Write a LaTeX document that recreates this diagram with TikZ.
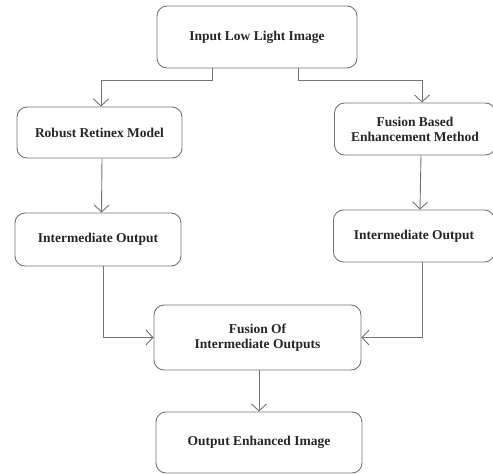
\documentclass[tikz,border=0pt]{standalone}
\usepackage{fontspec}
\setmainfont{Liberation Serif}
\usetikzlibrary{arrows.meta}
\begin{document}
\begin{tikzpicture}[x=1pt,y=-1pt,
  blk/.style={draw=black!55, line width=0.9pt, rounded corners=10pt, align=center,
    font=\fontsize{13.5}{15}\selectfont\bfseries, text=black!85, inner sep=0pt},
  arr/.style={draw=black!55, line width=0.9pt, -{Straight Barb[length=7pt,width=15pt]}}]
\useasboundingbox (0,0) rectangle (493,474);
\node[blk, minimum width=200pt, minimum height=62pt] (inp) at (257,37) {Input Low Light Image};
\node[blk, minimum width=165pt, minimum height=51pt] (rrm) at (99.5,132.5) {Robust Retinex Model};
\node[blk, minimum width=161pt, minimum height=52pt] (fbe) at (415,129) {Fusion Based\\Enhancement Method};
\node[blk, minimum width=166pt, minimum height=53pt] (im1) at (98,239.5) {Intermediate Output};
\node[blk, minimum width=161pt, minimum height=52pt] (im2) at (414,236) {Intermediate Output};
\node[blk, minimum width=207pt, minimum height=65pt] (fus) at (257.5,337.5) {Fusion Of\\Intermediate Outputs};
\node[blk, minimum width=206pt, minimum height=61pt] (out) at (259,442.5) {Output Enhanced Image};
\draw[arr] ([xshift=-45pt]inp.south) -- ++(0,12) -| ([xshift=1.5pt]rrm.north);
\draw[arr] ([xshift=41pt]inp.south) -- ++(0,12) -| ([xshift=7pt]fbe.north);
\draw[arr] ([xshift=2.5pt]rrm.south) -- ([xshift=3.5pt]im1.north);
\draw[arr] ([xshift=6pt]fbe.south) -- ([xshift=6pt]im2.north);
\draw[arr] ([xshift=5pt]im1.south) |- (fus.west);
\draw[arr] ([xshift=8pt]im2.south) |- (fus.east);
\draw[arr] ([xshift=1.5pt]fus.south) -- ([xshift=0pt]out.north);
\end{tikzpicture}
\end{document}
